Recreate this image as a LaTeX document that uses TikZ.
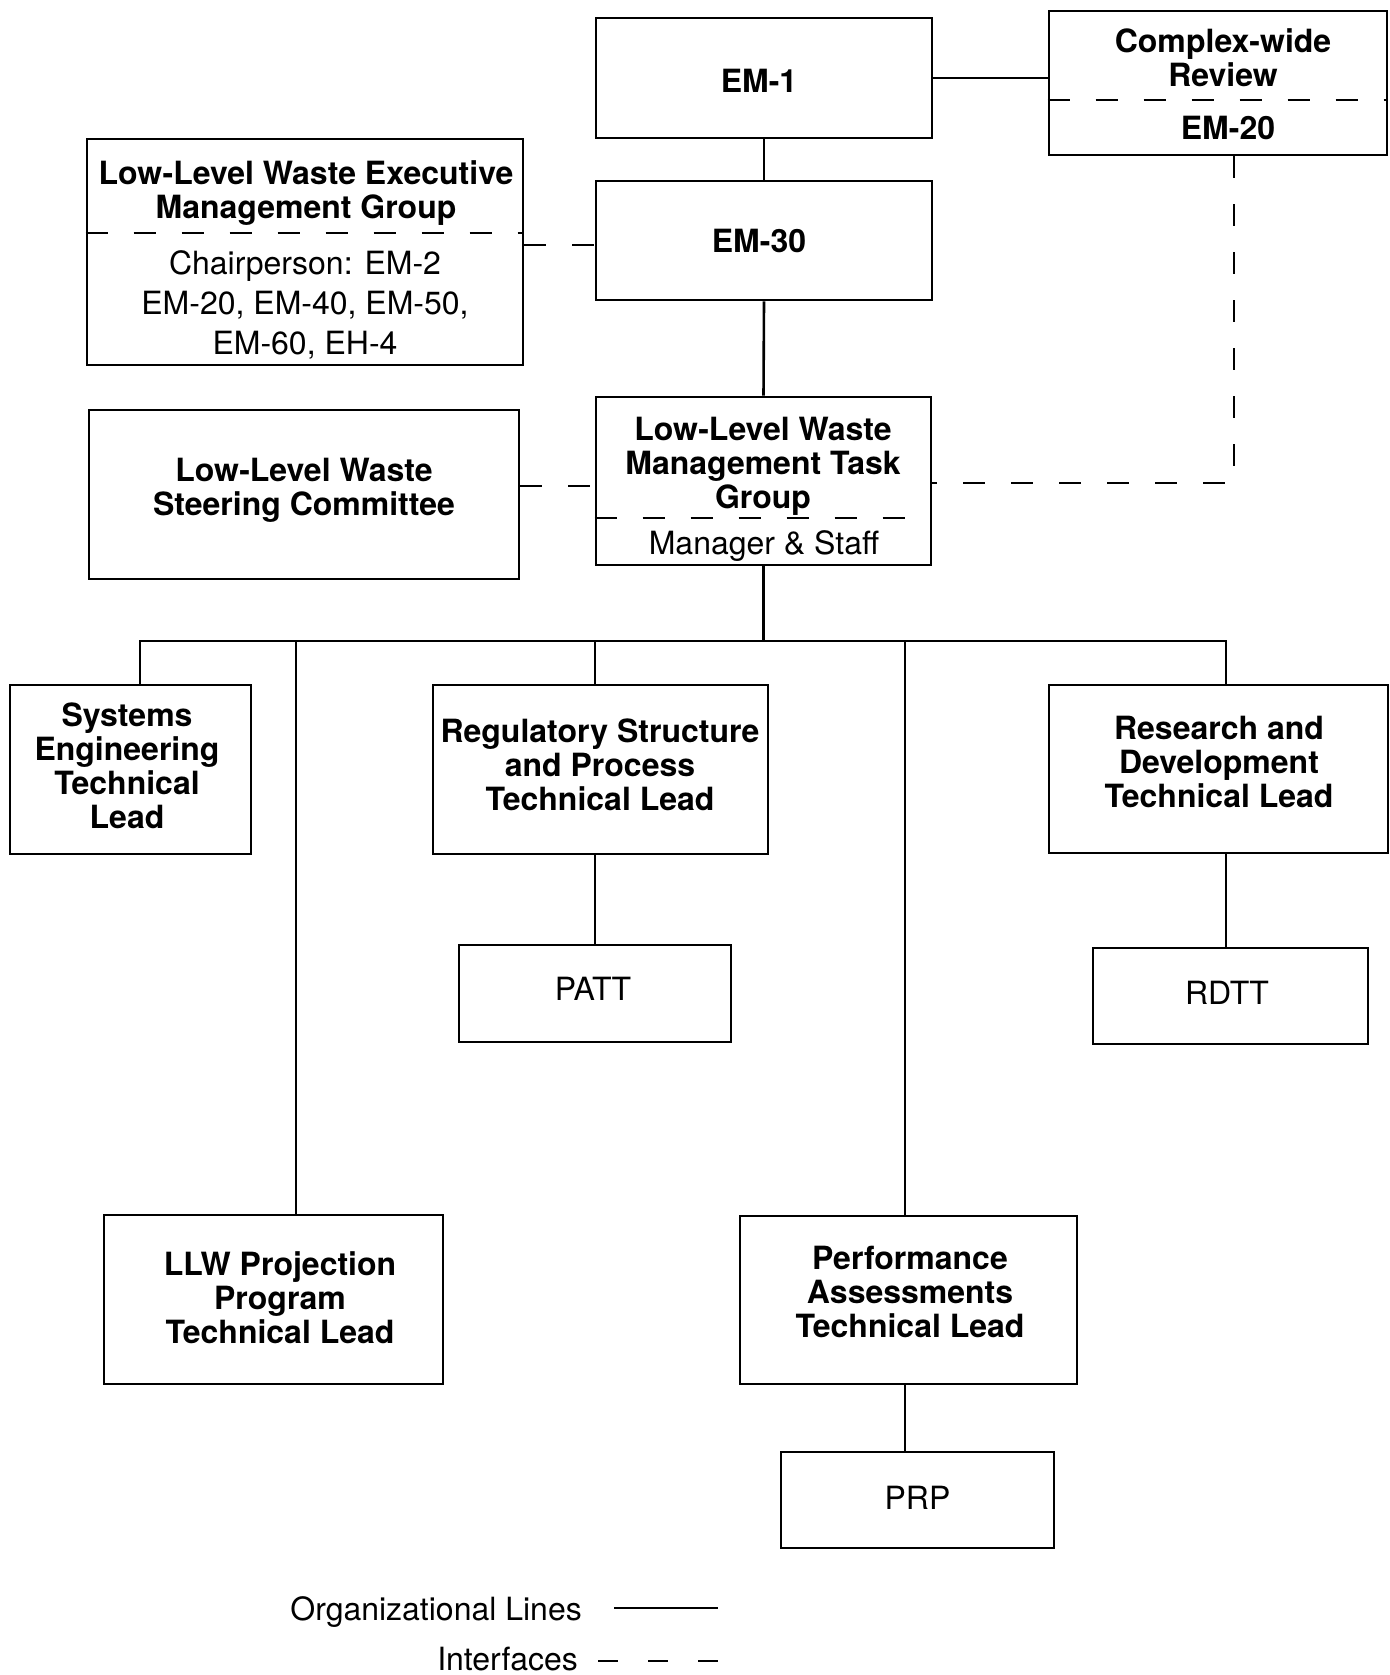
\documentclass[tikz,border=0pt]{standalone}
\usepackage{fontspec}
\setmainfont{TeX Gyre Heros}

\begin{document}
\begin{tikzpicture}[x=1pt,y=-1pt,
    box/.style={draw,line width=2.6pt,inner sep=0pt},
    head/.style={inner sep=0pt,align=center,font=\fontsize{32}{34}\selectfont\bfseries},
    body/.style={inner sep=0pt,align=center,font=\fontsize{32}{40}\selectfont},
    orgline/.style={line width=2.6pt},
    iface/.style={line width=2.6pt,dash pattern=on 22pt off 26pt}]
    \useasboundingbox (0,0) rectangle (1389,1675); % Keeps the page size...

    \node [box,minimum width=336,minimum height=120] (em1) at (764,78) {};
    \node [head] (em1T) at (759,81) {EM-1};
    \node [box,minimum width=338,minimum height=144] (cwr) at (1218,83) {};
    \node [head] (cwrT) at (1223,58) {Complex-wide\\Review};
    \node [head] (em20) at (1228,128) {EM-20};
    \coordinate (cwrD) at (0,100);
    \draw [iface] (cwr.west |- cwrD) -- (cwr.east |- cwrD);

    \node [box,minimum width=436,minimum height=226] (exec) at (305,252) {};
    \node [head] (execT) at (306,193) {Low-Level Waste Executive\\Management Group};
    \node [body] (execB) at (305,305) {Chairperson: EM-2\\EM-20, EM-40, EM-50,\\EM-60, EH-4};
    \coordinate (execD) at (0,233);
    \draw [iface] (exec.west |- execD) -- (exec.east |- execD);

    \node [box,minimum width=336,minimum height=119] (em30) at (764,240.5) {};
    \node [head] (em30T) at (759,241) {EM-30};

    \node [box,minimum width=335,minimum height=168] (task) at (763.5,481) {};
    \node [head] (taskT) at (763,466) {Low-Level Waste\\Management Task\\Group};
    \node [body] (taskB) at (764,546) {Manager \& Staff};
    \coordinate (taskD) at (0,518);
    \draw [iface] (task.west |- taskD) -- (task.east |- taskD);

    \node [box,minimum width=430,minimum height=169] (steer) at (304,494.5) {};
    \node [head] (steerT) at (304,490) {Low-Level Waste\\Steering Committee};

    % technical leads
    \node [box,minimum width=241,minimum height=169] (sys) at (130.5,769.5) {};
    \node [head] (sysT) at (127,766) {Systems\\Engineering\\Technical\\Lead};
    \node [box,minimum width=335,minimum height=169] (reg) at (600.5,769.5) {};
    \node [head] (regT) at (600,765) {Regulatory Structure\\and Process\\Technical Lead};
    \node [box,minimum width=339,minimum height=168] (rd) at (1218.5,769) {};
    \node [head] (rdT) at (1219,761.5) {Research and\\Development\\Technical Lead};
    \node [box,minimum width=339,minimum height=169] (proj) at (273.5,1299.5) {};
    \node [head] (projT) at (280,1297.5) {LLW Projection\\Program\\Technical Lead};
    \node [box,minimum width=337,minimum height=168] (perf) at (908.5,1300) {};
    \node [head] (perfT) at (910,1291.5) {Performance\\Assessments\\Technical Lead};
    \node [box,minimum width=272,minimum height=97] (patt) at (595,993.5) {};
    \node [body] (pattT) at (593,989) {PATT};
    \node [box,minimum width=275,minimum height=96] (rdtt) at (1230.5,996) {};
    \node [body] (rdttT) at (1227,993) {RDTT};
    \node [box,minimum width=273,minimum height=96] (prp) at (917.5,1500) {};
    \node [body] (prpT) at (917.5,1498) {PRP};

    % organizational lines
    \draw [orgline] (em1.south) -- (em30.north);
    \draw [orgline] (em30.south) -- (task.north);
    \draw [orgline] (em1.east) -- (em1.east -| cwr.west);
    \coordinate (dSys) at (140,641);
    \coordinate (dProj) at (296,641);
    \coordinate (dReg) at (595,641);
    \coordinate (dPerf) at (905,641);
    \coordinate (dRD) at (1226,641);
    \draw [orgline] (task.south) -- (task.south |- dSys);
    \draw [orgline] (dSys |- sys.north) -- (dSys) -- (dRD) -- (dRD |- rd.north);
    \draw [orgline] (dProj) -- (dProj |- proj.north);
    \draw [orgline] (dReg) -- (dReg |- reg.north);
    \draw [orgline] (dPerf) -- (dPerf |- perf.north);
    \draw [orgline] (reg.south -| patt.north) -- (patt.north);
    \draw [orgline] (rd.south -| dRD) -- (rdtt.north -| dRD);
    \draw [orgline] (perf.south -| dPerf) -- (prp.north -| dPerf);

    % interfaces
    \coordinate (iExec) at (0,245);
    \coordinate (iSteer) at (0,486);
    \coordinate (iTurn) at (1234,483);
    \draw [iface] (exec.east |- iExec) -- (em30.west |- iExec);
    \draw [iface] (steer.east |- iSteer) -- (task.west |- iSteer);
    \draw [iface] (iTurn |- cwr.south) -- (iTurn) -- (task.east |- iTurn);

    % legend
    \node [body,anchor=base east] (orgT) at (582,1620) {Organizational Lines};
    \node [body,anchor=base east] (ifT) at (578,1670) {Interfaces};
    \coordinate (orgA) at (614,1608);
    \coordinate (orgB) at (718,1608);
    \coordinate (ifA) at (598,1661);
    \coordinate (ifB) at (718,1661);
    \draw [orgline] (orgA) -- (orgB);
    \draw [line width=2.6pt,dash pattern=on 20pt off 30pt] (ifA) -- (ifB);
\end{tikzpicture}
\end{document}
